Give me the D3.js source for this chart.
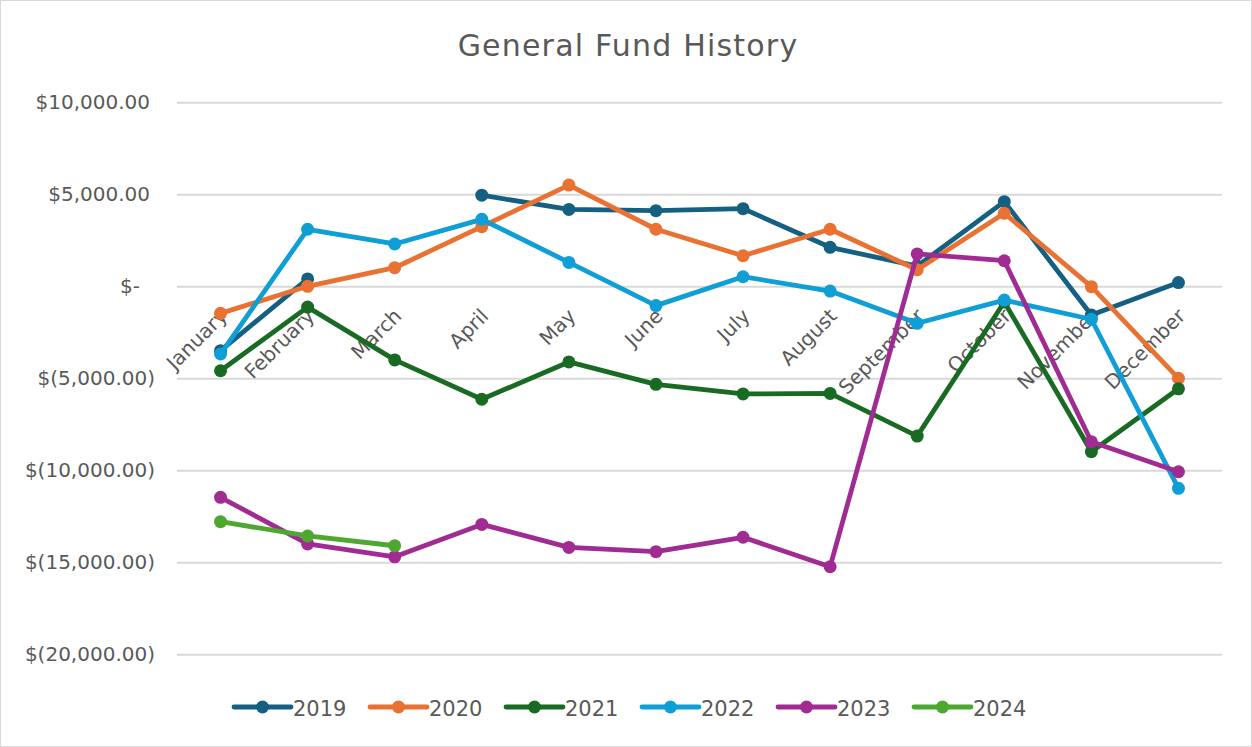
<!DOCTYPE html>
<html>
  <head>
    <meta charset="utf-8" />
    <title>General Fund History</title>
    <script src="https://d3js.org/d3.v7.min.js"></script>
    <style>
      body {
        margin: 0;
        background: #fff;
        font-family: "DejaVu Sans", sans-serif;
      }
      svg {
        display: block;
      }
    </style>
  </head>
  <body>
    <svg width="1252" height="747"></svg>

    <script>
      const months = ["January", "February", "March", "April", "May", "June",
        "July", "August", "September", "October", "November", "December"];
      const years = ["2019", "2020", "2021", "2022", "2023", "2024"];
      const colors = ["#156082", "#e97132", "#196b24", "#0f9ed5", "#a02b93", "#4ea72e"];

      // null = no value for that month
      const fund2019 = [-3500, 400, null, 4950, 4180, 4110, 4220, 2120, 1100, 4600, -1560, 200];
      const fund2020 = [-1470, 0, 1010, 3240, 5500, 3100, 1660, 3100, 900, 3970, -20, -5000];
      const fund2021 = [-4590, -1130, -4000, -6140, -4110, -5330, -5850, -5820, -8140, -850, -8990, -5570];
      const fund2022 = [-3680, 3100, 2300, 3640, 1300, -1050, 520, -260, -2010, -750, -1790, -10980];
      const fund2023 = [-11470, -14000, -14700, -12940, -14190, -14420, -13640, -15240, 1760, 1390, -8450, -10080];
      const fund2024 = [-12790, -13570, -14100];

      const yTicks = [10000, 5000, 0, -5000, -10000, -15000, -20000];

      const series = [fund2019, fund2020, fund2021, fund2022, fund2023, fund2024]
        .map((vals, i) => ({ year: years[i], color: colors[i], values: vals }));

      const svg = d3.select("svg");
      const width = +svg.attr("width");
      const height = +svg.attr("height");

      // outer chart border
      svg.append("rect")
        .attr("x", 0.5).attr("y", 0.5)
        .attr("width", width - 1).attr("height", height - 1)
        .attr("fill", "#fff").attr("stroke", "#d9d9d9");

      const x = d3.scaleBand().domain(months).range([177, 1222]);
      const y = d3.scaleLinear().domain([-20000, 10000]).range([654.3, 102.3]);

      svg.append("text")
        .attr("x", 628).attr("y", 56)
        .attr("text-anchor", "middle")
        .attr("fill", "#595959")
        .style("font-size", "30px")
        .style("letter-spacing", "1.2px")
        .text("General Fund History");

      // gridlines + y labels
      const fmt = d => {
        if (d === 0) return "$-";
        const s = "$" + d3.format(",.2f")(Math.abs(d));
        return d < 0 ? "$(" + s.slice(1) + ")" : s;
      };
      const yAxis = svg.append("g")
        .attr("transform", "translate(177,0)")
        .call(d3.axisLeft(y).tickValues(yTicks).tickSize(-1045).tickPadding(27).tickFormat(fmt));
      yAxis.select(".domain").remove();
      yAxis.selectAll(".tick line").attr("stroke", "#d9d9d9").attr("stroke-width", 2);
      yAxis.selectAll(".tick text")
        .attr("fill", "#595959")
        .style("font-family", "'DejaVu Sans', sans-serif")
        .style("font-size", "20px")
        .attr("dx", d => d < 0 ? 5 : (d === 0 ? -10 : 0));

      // month labels, rotated, sitting on the zero line
      svg.append("g").selectAll("text")
        .data(months)
        .join("text")
        .attr("transform", d => `translate(${x(d) + x.bandwidth() / 2 + 8},${y(0) + 31}) rotate(-45)`)
        .attr("text-anchor", "end")
        .attr("fill", "#595959")
        .style("font-size", "20px")
        .text(d => d);

      const cx = (d, i) => x(months[i]) + x.bandwidth() / 2;
      const line = d3.line()
        .defined(d => d !== null)
        .x(cx)
        .y(d => y(d));

      const sg = svg.append("g").selectAll("g")
        .data(series)
        .join("g");

      sg.append("path")
        .attr("d", d => line(d.values))
        .attr("fill", "none")
        .attr("stroke", d => d.color)
        .attr("stroke-width", 4.8)
        .attr("stroke-linejoin", "round")
        .attr("stroke-linecap", "round");

      sg.each(function (s) {
        d3.select(this).selectAll("circle")
          .data(s.values.map((v, i) => ({ v, i })).filter(p => p.v !== null))
          .join("circle")
          .attr("cx", p => cx(p.v, p.i))
          .attr("cy", p => y(p.v))
          .attr("r", 6.5)
          .attr("fill", s.color);
      });

      // legend
      const legend = svg.append("g").selectAll("g")
        .data(series)
        .join("g")
        .attr("transform", (d, i) => `translate(${234 + i * 136},707)`);
      legend.append("line")
        .attr("x1", 0).attr("x2", 57)
        .attr("stroke", d => d.color)
        .attr("stroke-width", 4.8)
        .attr("stroke-linecap", "round");
      legend.append("circle")
        .attr("cx", 28.5).attr("r", 6.5)
        .attr("fill", d => d.color);
      legend.append("text")
        .attr("x", 59).attr("y", 9)
        .attr("fill", "#595959")
        .style("font-size", "21px")
        .text(d => d.year);
    </script>
  </body>
</html>
